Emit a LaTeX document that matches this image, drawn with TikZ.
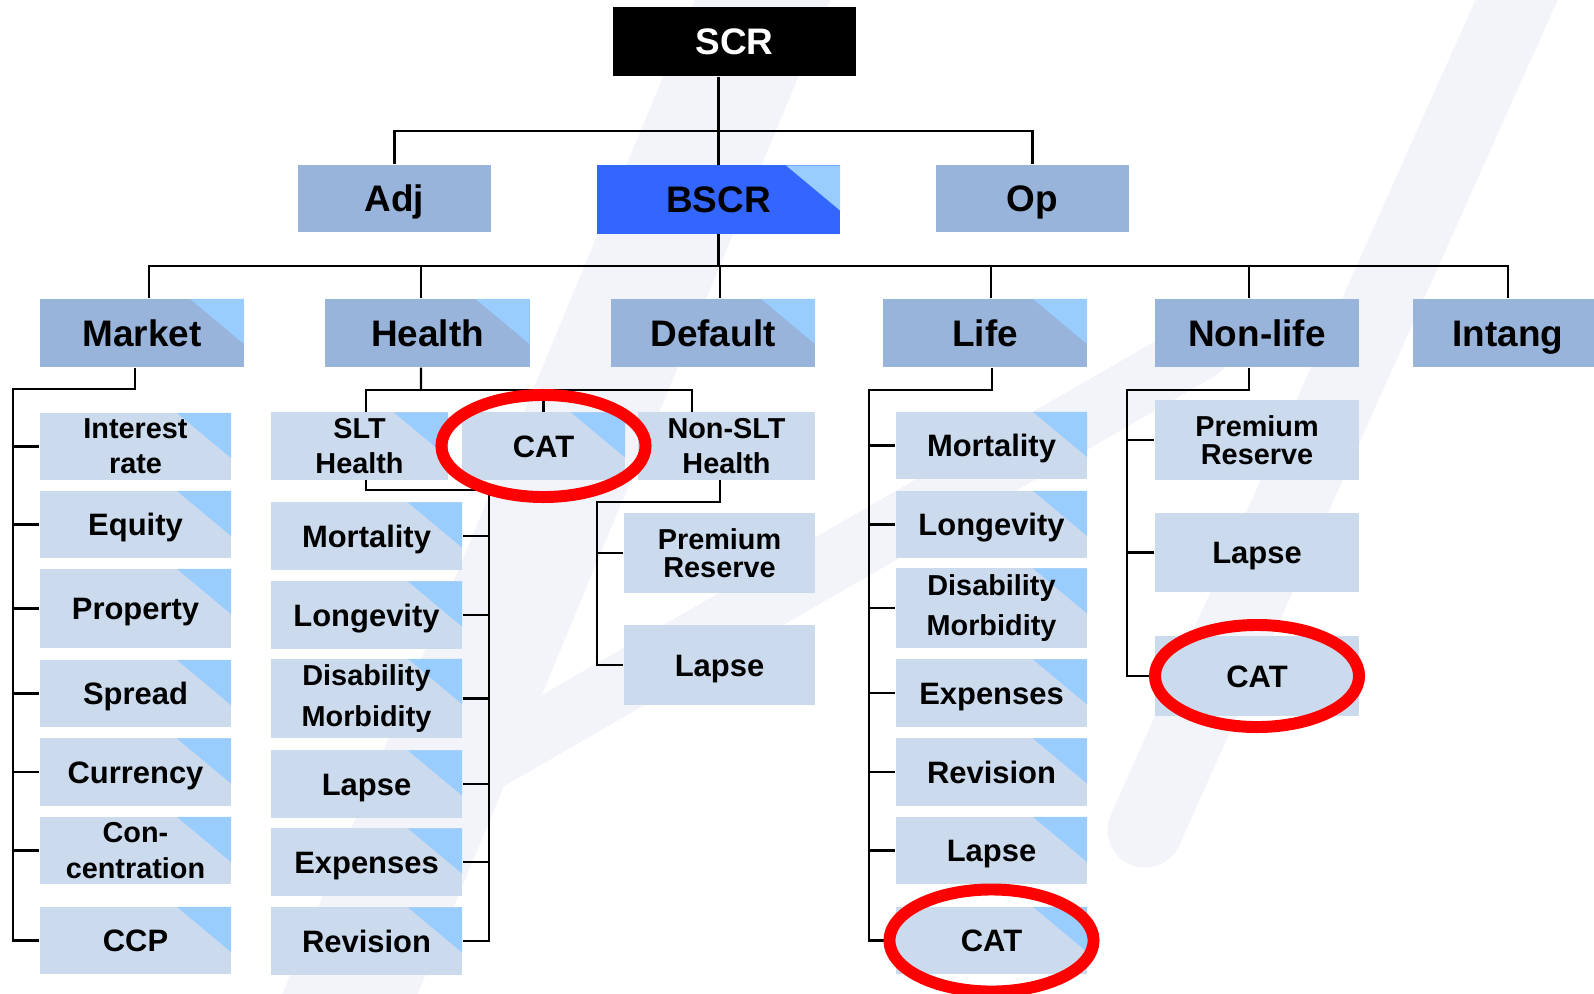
\documentclass[tikz,border=0pt]{standalone}
\usepackage{fontspec}
\setmainfont{Liberation Sans}
\usepackage{tikz}
\usetikzlibrary{calc}
\definecolor{boxmid}{HTML}{99B4DB}
\definecolor{boxlight}{HTML}{CBDAED}
\definecolor{cornerblue}{HTML}{99CCFF}
\definecolor{bscrblue}{HTML}{3366FF}
\definecolor{markred}{HTML}{FF0000}
\definecolor{wmark}{HTML}{F2F4F9}

\begin{document}
\begin{tikzpicture}[x=0.01cm, y=-0.01cm,
 big/.style={font=\fontsize{10.5}{12}\selectfont\bfseries, text height=7.5pt, text depth=0pt},
 mid/.style={font=\fontsize{8.8}{10.5}\selectfont\bfseries, text height=6.3pt, text depth=0pt},
 two/.style={font=\fontsize{8.2}{10}\selectfont\bfseries, align=center, text height=, text depth=},
 tight/.style={font=\fontsize{8.2}{8}\selectfont\bfseries, align=center, text height=, text depth=},
 loose/.style={font=\fontsize{8.2}{11.5}\selectfont\bfseries, align=center, text height=, text depth=},
 lvl/.style={big, fill=boxmid, inner sep=0, minimum width=2.04cm, minimum height=0.68cm},
 sub/.style={mid, fill=boxlight, inner sep=0, minimum width=1.91cm, minimum height=0.67cm},
 tall/.style={minimum height=0.79cm},
 corner/.style={path picture={\fill[cornerblue] ([xshift=-0.54cm]path picture bounding box.north east) -- (path picture bounding box.north east) -- ([yshift=-0.45cm]path picture bounding box.north east) -- cycle;}},
 link/.style={line width=0.65pt},
 ring/.style={draw=markred, line width=3.4pt},
]
 \useasboundingbox (0,0) rectangle (1594,994);
 %
 \draw[wmark, line width=1.25cm] (775,-30) -- (335,1030);
 \draw[wmark, line width=0.75cm, line cap=round] (1530,-30) -- (1145,830);
 \draw[wmark, line width=0.6cm, line cap=round] (420,800) -- (1200,350);
 %
 \node[big, fill=black, text=white, inner sep=0, minimum width=2.43cm, minimum height=0.69cm] (scr) at (734.5,41.5) {SCR};
 \node[lvl, minimum width=1.93cm, minimum height=0.67cm] (adj) at (394.5,198.5) {Adj};
 \node[lvl, corner, fill=bscrblue, minimum width=2.43cm] (bscr) at (718.5,199.5) {BSCR};
 \node[lvl, minimum width=1.93cm, minimum height=0.67cm] (op) at (1032.5,198.5) {Op};
 %
 \node[lvl, corner] (market) at (142,333) {Market};
 \node[lvl, corner] (health) at (427.5,333) {Health};
 \node[lvl, corner] (default) at (713,333) {Default};
 \node[lvl, corner] (life) at (985,333) {Life};
 \node[lvl] (nonlife) at (1257,333) {Non-life};
 \node[lvl, minimum width=1.9cm] (intang) at (1508,333) {Intang};
 %
 \node[sub, two, corner] (mint) at (135.5,446.5) {Interest\\rate};
 \node[sub, corner] (meq) at (135.5,524.5) {Equity};
 \node[sub, corner, tall] (mprop) at (135.5,608.5) {Property};
 \node[sub, corner] (mspr) at (135.5,693.5) {Spread};
 \node[sub, corner] (mcur) at (135.5,772) {Currency};
 \node[sub, two, corner] (mcon) at (135.5,850.5) {Con-\\centration};
 \node[sub, corner] (mccp) at (135.5,940.5) {CCP};
 %
 \node[sub, two, corner, minimum width=1.77cm] (hslt) at (359.5,446) {SLT\\Health};
 \node[sub, corner, minimum width=1.63cm] (hcat) at (543.5,446) {CAT};
 \node[sub, two, minimum width=1.77cm] (hnslt) at (726.5,446) {Non-SLT\\Health};
 \node[sub, corner] (hmort) at (366.5,536) {Mortality};
 \node[sub, corner] (hlong) at (366.5,615) {Longevity};
 \node[sub, loose, corner, tall] (hdis) at (366.5,698.5) {Disability\\Morbidity};
 \node[sub, corner] (hlapse) at (366.5,784) {Lapse};
 \node[sub, corner] (hexp) at (366.5,862) {Expenses};
 \node[sub, corner] (hrev) at (366.5,941) {Revision};
 %
 \node[sub, tight, minimum height=0.8cm] (dprem) at (719.5,553) {Premium\\Reserve};
 \node[sub, tall] (dlapse) at (719.5,665) {Lapse};
 %
 \node[sub, corner] (lmort) at (991.5,445.5) {Mortality};
 \node[sub, corner] (llong) at (991.5,524.5) {Longevity};
 \node[sub, loose, corner, tall] (ldis) at (991.5,608) {Disability\\Morbidity};
 \node[sub, corner] (lexp) at (991.5,693) {Expenses};
 \node[sub, corner] (lrev) at (991.5,772) {Revision};
 \node[sub, corner] (llapse) at (991.5,850.5) {Lapse};
 \node[sub, corner] (lcat) at (991.5,940.5) {CAT};
 %
 \node[sub, tight, tall, minimum width=2.04cm] (nprem) at (1257,440) {Premium\\Reserve};
 \node[sub, tall, minimum width=2.04cm] (nlapse) at (1257,552.5) {Lapse};
 \node[sub, tall, minimum width=2.04cm] (ncat) at (1257,676) {CAT};

 %
 \coordinate (topbar) at (720,131);
 \coordinate (midbar) at (720,266);
 \draw[link] (bscr.north) -- (bscr.north |- scr.south);
 \draw[link] (adj.north) |- (topbar) -| (op.north);
 \draw[link] (bscr.south) -- (bscr.south |- midbar);
 \draw[link] ([xshift=0.07cm]market.north) |- (midbar) -| (intang.north);
 \draw[link] ([xshift=-0.065cm]health.north) -- ([xshift=-0.065cm]health.north |- midbar);
 \draw[link] ([xshift=0.07cm]default.north) -- ([xshift=0.07cm]default.north |- midbar);
 \draw[link] ([xshift=0.06cm]life.north) -- ([xshift=0.06cm]life.north |- midbar);
 \draw[link] ([xshift=-0.08cm]nonlife.north) -- ([xshift=-0.08cm]nonlife.north |- midbar);
 %
 \coordinate (mv) at (13,389);
 \draw[link] ([xshift=-0.07cm]market.south) |- (mv) |- (mccp.west);
 \foreach \n in {mint,meq,mprop,mspr,mcur,mcon}{\draw[link] (mv |- \n.west) -- (\n.west);}
 %
 \coordinate (hbar) at (421,390);
 \draw[link] ([xshift=-0.065cm]health.south) -- (hbar);
 \draw[link] ([xshift=0.065cm]hslt.north) |- (hbar) -| ([xshift=-0.345cm]hnslt.north);
 \draw[link] (hcat.north) -- (hcat.north |- hbar);
 \coordinate (hv) at (489,490);
 \draw[link] ([xshift=0.065cm]hslt.south) |- (hv) |- (hrev.east);
 \foreach \n in {hmort,hlong,hdis,hlapse,hexp}{\draw[link] (hv |- \n.east) -- (\n.east);}
 %
 \coordinate (dv) at (597,502);
 \draw[link] ([xshift=-0.065cm]hnslt.south) |- (dv) |- (dlapse.west);
 \draw[link] (dv |- dprem.west) -- (dprem.west);
 %
 \coordinate (lv) at (869,390);
 \draw[link] ([xshift=0.07cm]life.south) |- (lv) |- (lcat.west);
 \foreach \n in {lmort,llong,ldis,lexp,lrev,llapse}{\draw[link] (lv |- \n.west) -- (\n.west);}
 %
 \coordinate (nv) at (1127,390);
 \draw[link] ([xshift=-0.08cm]nonlife.south) |- (nv) |- (ncat.west);
 \foreach \n in {nprem,nlapse}{\draw[link] (nv |- \n.west) -- (\n.west);}
 %
 \foreach \n in {hcat,lcat,ncat}{\draw[ring] (\n.center) ellipse [x radius=1.02cm, y radius=0.51cm];}
\end{tikzpicture}
\end{document}
